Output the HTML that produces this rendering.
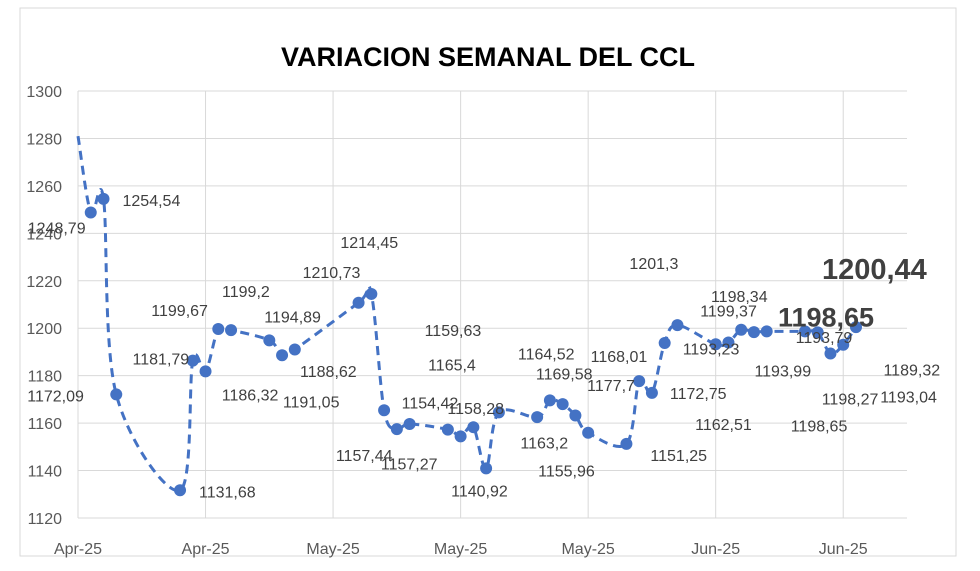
<!DOCTYPE html>
<html><head><meta charset="utf-8"><style>
body{margin:0;background:#fff;}
svg{display:block;font-family:"Liberation Sans",Arial,sans-serif;}
</style></head><body>
<svg id="chart" width="980" height="571">
<rect x="20" y="8" width="936" height="548" fill="#fff" stroke="#d9d9d9"/>
<text x="488" y="66" text-anchor="middle" font-size="27" font-weight="bold" fill="#000">VARIACION SEMANAL DEL CCL</text>
<g id="grid"></g><g id="series"></g><g id="labels"></g>
</svg>
<script>
const yTicks=[1120,1140,1160,1180,1200,1220,1240,1260,1280,1300];
const xTickPos=[0,10,20,30,40,50,60];
const xTickLabels=["Apr-25","Apr-25","May-25","May-25","May-25","Jun-25","Jun-25"];
const days=[0,1,2,3,8,9,10,11,12,15,16,17,22,23,24,25,26,29,30,31,32,33,36,37,38,39,40,43,44,45,46,47,50,51,52,53,54,57,58,59,60,61];
const values=[1281,1248.79,1254.54,1172.09,1131.68,1186.32,1181.79,1199.67,1199.2,1194.89,1188.62,1191.05,1210.73,1214.45,1165.4,1157.44,1159.63,1157.27,1154.42,1158.28,1140.92,1164.52,1162.51,1169.58,1168.01,1163.2,1155.96,1151.25,1177.7,1172.75,1193.79,1201.3,1193.23,1193.99,1199.37,1198.34,1198.65,1198.65,1198.27,1189.32,1193.04,1200.44];
const printed=["","1248,79","1254,54","1172,09","1131,68","1186,32","1181,79","1199,67","1199,2","1194,89","1188,62","1191,05","1210,73","1214,45","1165,4","1157,44","1159,63","1157,27","1154,42","1158,28","1140,92","1164,52","1162,51","1169,58","1168,01","1163,2","1155,96","1151,25","1177,7","1172,75","1193,79","1201,3","1193,23","1193,99","1199,37","1198,34","1198,65","1198,65","1198,27","1189,32","1193,04","1200,44"];
// label offsets (style, relative to point): dx to left edge, dy to vertical center
const ldx=[0,-63,19,-89,19,29,-73,-67,-9,-5,18,-12,-56,-31,44,-61,15,-67,-59,-26,-35,19,158,-14,28,-55,-50,24,-52,18,131,-48,-33,26,-41,-43,24,-27,4,53,37,-34];
const ldy=[0,15,1,1,1,34,-13,-19,-39,-24,16,52,-31,-52,-46,26,-94,34,-34,-19,22,-59,7,-27,-48,27,38,11,4,0,-6,-62,4,28,-19,-36,94,-15,66,16,52,-58];
const ns="http://www.w3.org/2000/svg";
const X0=78,X1=907,XMAX=65,Y0=518,Y1=91;
const xs=d=>X0+(d/XMAX)*(X1-X0);
const ys=v=>Y0-(v-1120)/180*(Y0-Y1);
function mk(tag,attrs,parent){const e=document.createElementNS(ns,tag);for(const k in attrs)e.setAttribute(k,attrs[k]);parent.appendChild(e);return e;}
const grid=document.getElementById('grid'),series=document.getElementById('series'),labels=document.getElementById('labels');
yTicks.forEach(t=>{
 const l=mk('line',{x1:X0,x2:X1,y1:ys(t),y2:ys(t),stroke:'#d9d9d9','stroke-width':1},grid);
 
 const tx=mk('text',{x:62,y:ys(t)+6,'text-anchor':'end','font-size':16,fill:'#595959'},grid);
 tx.textContent=t;
 
});
xTickPos.forEach((d,i)=>{
 const l=mk('line',{x1:xs(d),x2:xs(d),y1:Y1,y2:Y0,stroke:'#d9d9d9','stroke-width':1},grid);
 
 const tx=mk('text',{x:xs(d),y:554,'text-anchor':'middle','font-size':16,fill:'#595959'},grid);
 tx.textContent=xTickLabels[i];
 
});
const pts=days.map((d,i)=>[xs(d),ys(values[i])]);
let p='M'+pts[0][0]+','+pts[0][1];
for(let i=0;i<pts.length-1;i++){
 const a=pts[i-1]||pts[i],b=pts[i],c=pts[i+1],e=pts[i+2]||c;
 const c1=[b[0]+(c[0]-a[0])/6,b[1]+(c[1]-a[1])/6],c2=[c[0]-(e[0]-b[0])/6,c[1]-(e[1]-b[1])/6];
 p+=`C${c1[0]},${c1[1]} ${c2[0]},${c2[1]} ${c[0]},${c[1]}`;
}
const line=mk('path',{d:p,fill:'none',stroke:'#4472c4','stroke-width':3,'stroke-dasharray':'9 6'},series);

pts.forEach((q,i)=>{
 if(i===0)return;
 const c=mk('circle',{cx:q[0],cy:q[1],r:6,fill:'#4472c4'},series);
 
 const big=(i===37||i===41);
 const t=mk('text',{x:q[0]+ldx[i],y:q[1]+ldy[i]+(big?10:6),'font-size':big?(i===41?29:27):16,'font-weight':big?'bold':'normal',fill:'#404040'},labels);
 t.textContent=printed[i];
 
});
</script>
</body></html>
